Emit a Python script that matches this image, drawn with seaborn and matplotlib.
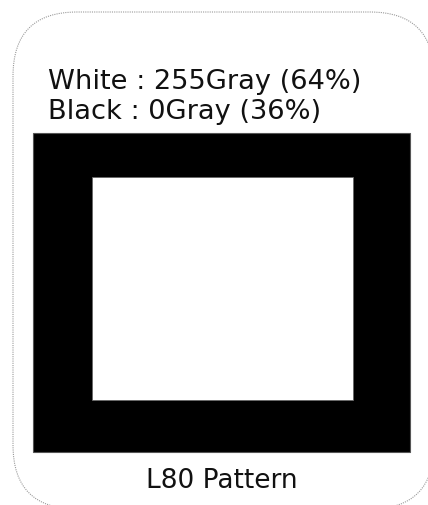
import matplotlib
matplotlib.use("Agg")
import matplotlib.pyplot as plt
from matplotlib.patches import FancyBboxPatch
import seaborn as sns

# ---- data ----
pattern_name = "L80"
levels = ["White", "Black"]
gray_values = [255, 0]
percent_values = [64, 36]
caption_suffix = "Pattern"

sns.set_theme(style="white")
plt.rcParams['font.family'] = ['DejaVu Sans']

W, H = 428, 506
fig = plt.figure(figsize=(W / 100, H / 100), dpi=100)
ax = fig.add_axes([0, 0, 1, 1])
ax.set_xlim(0, W)
ax.set_ylim(0, H)
ax.axis("off")


def fy(y):
    """convert a top-down pixel row into the bottom-up axis coordinate"""
    return H - y


# rounded frame (extends past the right and bottom edges)
left, top, right, bottom = 13, 13, 434, 510
frame = FancyBboxPatch((left, fy(bottom)), right - left, bottom - top,
                       boxstyle="round,pad=0,rounding_size=64",
                       facecolor="white", edgecolor="#9a9a9a",
                       linewidth=0.8, linestyle=(0, (1, 1)), zorder=0,
                       clip_on=True)
ax.add_patch(frame)

# pattern: outer black box, inner white window
outer = (33, 134, 410, 453)
inner = (92, 178, 353, 401)
ax.bar([outer[0]], [outer[3] - outer[1]], width=outer[2] - outer[0],
       bottom=fy(outer[3]), align="edge", color="black",
       edgecolor="#555555", linewidth=0.8, zorder=2)
ax.bar([inner[0]], [inner[3] - inner[1]], width=inner[2] - inner[0],
       bottom=fy(inner[3]), align="edge", color="white",
       edgecolor="#666666", linewidth=0.6, zorder=3)

# header text
for i, (lvl, g, p) in enumerate(zip(levels, gray_values, percent_values)):
    ax.text(48, fy(89 + 30 * i), f"{lvl} : {g}Gray ({p}%)", fontsize=19.6,
            color="#111111", ha="left", va="baseline", zorder=4)

ax.text((outer[0] + outer[2]) / 2, fy(488), f"{pattern_name} {caption_suffix}",
        fontsize=19, color="#111111", ha="center", va="baseline", zorder=4)

fig.savefig("out.png", dpi=100)
